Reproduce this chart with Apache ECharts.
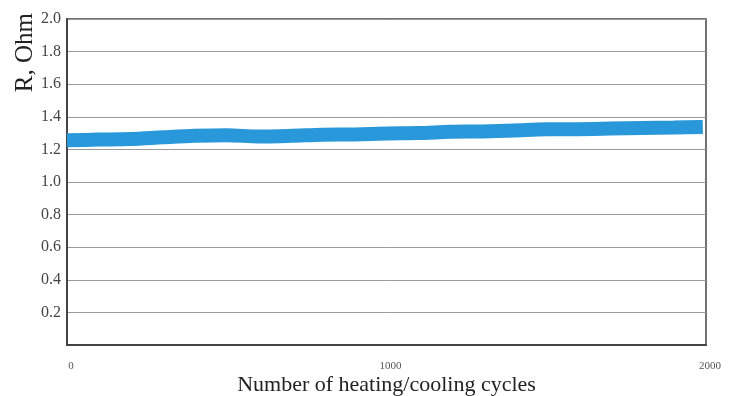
<!DOCTYPE html>
<html>
<head>
<meta charset="utf-8">
<script src="https://cdn.jsdelivr.net/npm/echarts@6/dist/echarts.min.js"></script>
<style>html,body{margin:0;padding:0;background:#fff}#c{width:730px;height:396px}</style>
</head>
<body>
<div id="c"></div>
<script>
var cycles = [0,100,200,300,400,500,600,700,800,900,1000,1100,1200,1300,1400,1500,1600,1700,1800,1900,1990];
var resistance = [1.256,1.260,1.264,1.274,1.283,1.287,1.279,1.283,1.290,1.292,1.298,1.300,1.308,1.310,1.316,1.323,1.324,1.328,1.332,1.335,1.338];
var xTicks = [0,1000,2000];
var yTicks = [0.2,0.4,0.6,0.8,1.0,1.2,1.4,1.6,1.8,2.0];

var chart = echarts.init(document.getElementById('c'));
var font = '"Liberation Serif","DejaVu Serif",serif';
chart.setOption({
  animation:false,
  grid:{left:67,right:24,top:19,bottom:51,containLabel:false,outerBoundsMode:'none',
    show:true,borderColor:'#444',borderWidth:1.5},
  xAxis:{type:'value',min:0,max:2000,interval:1000,
    name:'Number of heating/cooling cycles',nameLocation:'middle',nameGap:29,nameMoveOverlap:false,
    nameTextStyle:{fontFamily:font,fontSize:22,color:'#222'},
    axisLine:{show:true,lineStyle:{color:'#444',width:2}},axisTick:{show:false},
    splitLine:{show:false},
    axisLabel:{fontFamily:font,fontSize:11,color:'#555',margin:16,align:'center',padding:[0,0,0,8],
      formatter:function(v){return xTicks.indexOf(v)>=0?String(v):'';}}},
  yAxis:{type:'value',min:0,max:2,interval:0.2,
    axisLine:{show:true,lineStyle:{color:'#444',width:2}},axisTick:{show:false},
    splitLine:{show:true,lineStyle:{color:'#999',width:1}},
    axisLabel:{fontFamily:font,fontSize:16,color:'#444',margin:6,
      formatter:function(v){var s=v.toFixed(1);return yTicks.map(function(t){return t.toFixed(1)}).indexOf(s)>=0?s:'';}}},
  graphic:[{type:'text',left:13,top:13,rotation:Math.PI/2,
    style:{text:'R, Ohm',font:'25px '+font,fill:'#222'}}],
  series:[{type:'line',data:cycles.map(function(c,i){return [c,resistance[i]];}),
    showSymbol:false,smooth:0.3,lineStyle:{color:'#2898da',width:14,cap:'butt'},z:3}]
});
</script>
</body>
</html>
